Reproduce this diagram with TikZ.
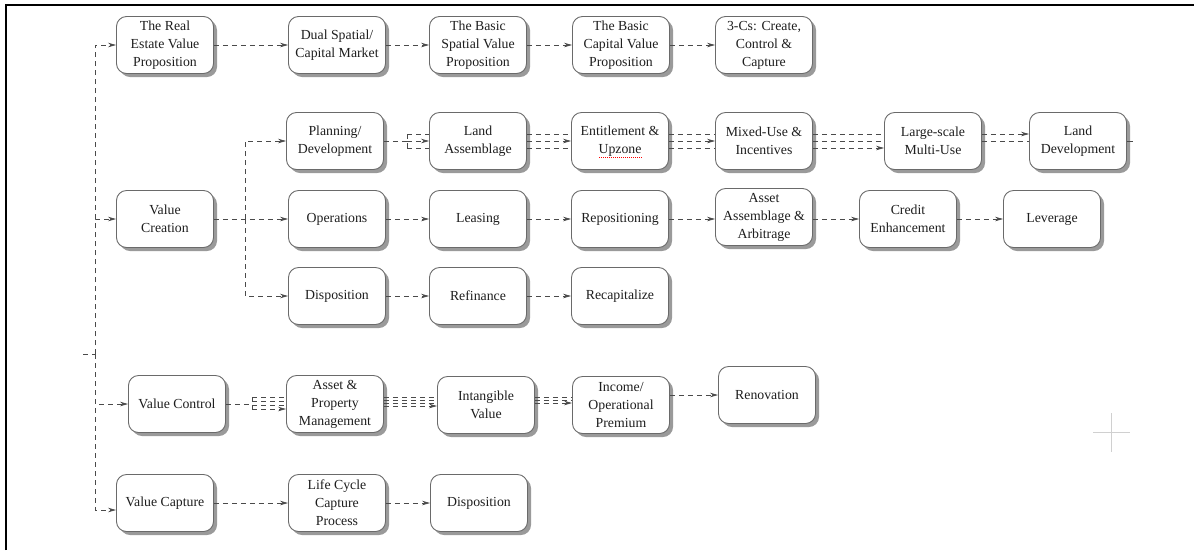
\documentclass[tikz,border=0pt]{standalone}
\usepackage{fontspec}
\setmainfont{Liberation Serif}
\usetikzlibrary{arrows.meta,shadows}

\definecolor{linegray}{HTML}{4A4A4A}
\definecolor{boxgray}{HTML}{6A6A6A}
\definecolor{shadowgray}{HTML}{9A9A9A}
\definecolor{textgray}{HTML}{1E1E1E}
\definecolor{cursorgray}{HTML}{D0D0D0}

\begin{document}
\begin{tikzpicture}[x=1pt,y=-1pt,
  box/.style={draw=boxgray, line width=0.9pt, rounded corners=10pt, fill=white,
    minimum width=97pt, minimum height=57pt, align=center, inner sep=2pt,
    text=textgray, font=\fontsize{13.8}{18}\selectfont,
    drop shadow={shadow xshift=3.5pt, shadow yshift=-3.5pt, fill=shadowgray, opacity=1}},
  link/.style={draw=linegray, line width=0.75pt, dash pattern=on 5pt off 4pt},
  arr/.style={link, -{Stealth[length=8pt,width=4.5pt]}},
]
\useasboundingbox (0,0) rectangle (1194,550);

% frame edges
\draw[line width=2.5pt] (6,550) -- (6,5) -- (1194,5);

% row 1
\node[box] (re)  at (165,45) {The Real\\Estate Value\\Proposition};
\node[box] (dsm) at (337,45) {Dual Spatial/\\Capital Market};
\node[box] (bsv) at (478,45) {The Basic\\Spatial Value\\Proposition};
\node[box] (bcv) at (621,45) {The Basic\\Capital Value\\Proposition};
\node[box] (ccc) at (764,45) {3-Cs: Create,\\Control \&\\Capture};

% row 2
\node[box] (plan) at (335,141) {Planning/\\Development};
\node[box] (land) at (478,141) {Land\\Assemblage};
\node[box] (ent)  at (620,141) {Entitlement \&\\Upzone};
\node[box] (mix)  at (764,141) {Mixed-Use \&\\Incentives};
\node[box] (lsm)  at (933,141) {Large-scale\\Multi-Use};
\node[box] (ldev) at (1078,141) {Land\\Development};

% row 3
\node[box] (vcr) at (165,219) {Value\\Creation};
\node[box] (ops) at (337,219) {Operations};
\node[box] (lea) at (478,219) {Leasing};
\node[box] (rep) at (620,219) {Repositioning};
\node[box] (aaa) at (764,217) {Asset\\Assemblage \&\\Arbitrage};
\node[box] (cre) at (908,219) {Credit\\Enhancement};
\node[box] (lev) at (1052,219) {Leverage};

% row 4
\node[box] (disp)  at (337,296) {Disposition};
\node[box] (ref)   at (478,296) {Refinance};
\node[box] (recap) at (620,296) {Recapitalize};

% row 5
\node[box] (vco)  at (177,404) {Value Control};
\node[box] (apm)  at (335,404) {Asset \&\\Property\\Management};
\node[box] (intv) at (486,405) {Intangible\\Value};
\node[box] (inc)  at (621,405) {Income/\\Operational\\Premium};
\node[box] (ren)  at (767,395) {Renovation};

% row 6
\node[box] (vca)  at (165,503) {Value Capture};
\node[box] (lcc)  at (337,503) {Life Cycle\\Capture\\Process};
\node[box] (disp2) at (479,503) {Disposition};

% spell-check squiggle under "Upzone"
\draw[red, line width=1pt, dash pattern=on 1pt off 1pt] ([xshift=-21pt,yshift=-16pt]ent.center) -- ([xshift=22pt,yshift=-16pt]ent.center);

% main trunk
\coordinate (in) at (83,354);
\coordinate (j)  at (95,354);
\draw[link] (in) -- (j);
\draw[arr] (j) |- (re.west);
\draw[arr] (j) |- (vcr.west);
\draw[arr] (j) |- (vco.west);
\draw[arr] (j) |- ([yshift=-7pt]vca.west);

% row 1 chain
\draw[arr] (re.east) -- (dsm.west);
\draw[arr] (dsm.east) -- (bsv.west);
\draw[arr] (bsv.east) -- (bcv.west);
\draw[arr] (bcv.east) -- (ccc.west);

% value creation branch
\coordinate (b) at (245,219);
\draw[arr] (vcr.east) -- (ops.west);
\draw[arr] (b) |- (plan.west);
\draw[arr] (b) |- (disp.west);

% row 2 chain (bundled lines)
\coordinate (pj) at (407,141);
\draw[link] (plan.east) -- (pj);
\draw[link] ([yshift=7pt]pj) -- ([yshift=-7pt]pj);
\draw[link] ([yshift=7pt]pj) -- ([yshift=7pt]land.west);
\draw[arr]  (pj) -- (land.west);
\draw[link] ([yshift=-7pt]pj) -- ([yshift=-7pt]land.west);

\draw[link] ([yshift=7pt]land.east) -- ([yshift=7pt]ent.west);
\draw[arr]  (land.east) -- (ent.west);
\draw[link] ([yshift=-7pt]land.east) -- ([yshift=-7pt]ent.west);

\draw[link] ([yshift=7pt]ent.east) -- ([yshift=7pt]mix.west);
\draw[arr]  (ent.east) -- (mix.west);
\draw[link] ([yshift=-7pt]ent.east) -- ([yshift=-7pt]mix.west);

\draw[link] ([yshift=7pt]mix.east) -- ([yshift=7pt]lsm.west);
\draw[link] (mix.east) -- (lsm.west);
\draw[arr]  ([yshift=-7pt]mix.east) -- ([yshift=-7pt]lsm.west);

\draw[arr]  ([yshift=7pt]lsm.east) -- ([yshift=7pt]ldev.west);
\draw[link] (lsm.east) -- (ldev.west);
\draw[linegray, line width=0.75pt] (ldev.east) -- ++(6,0);

% row 3 chain
\draw[arr] (ops.east) -- (lea.west);
\draw[arr] (lea.east) -- (rep.west);
\draw[arr] (rep.east) -- (aaa.west |- rep.east);
\draw[arr] (aaa.east |- cre.west) -- (cre.west);
\draw[arr] (cre.east) -- (lev.west);

% row 4 chain
\draw[arr] (disp.east) -- (ref.west);
\draw[arr] (ref.east) -- (recap.west);

% row 5 chain (bundled lines)
\coordinate (cj) at (252,404);
\draw[link] (vco.east) -- (cj);
\draw[link] ([yshift=7pt]cj) -- ([yshift=-5pt]cj);
\draw[link] ([yshift=7pt]cj) -- ([yshift=7pt]apm.west);
\draw[link] ([yshift=3pt]cj) -- ([yshift=3pt]apm.west);
\draw[link] ([yshift=-1pt]cj) -- ([yshift=-1pt]apm.west);
\draw[arr]  ([yshift=-5pt]cj) -- ([yshift=-5pt]apm.west);

\draw[link] ([yshift=7pt]apm.east) -- ([yshift=8pt]intv.west);
\draw[link] ([yshift=4pt]apm.east) -- ([yshift=5pt]intv.west);
\draw[link] ([yshift=1pt]apm.east) -- ([yshift=2pt]intv.west);
\draw[arr]  ([yshift=-2pt]apm.east) -- ([yshift=-1pt]intv.west);

\draw[link] ([yshift=8pt]intv.east) -- ([yshift=8pt]inc.west);
\draw[link] ([yshift=5pt]intv.east) -- ([yshift=5pt]inc.west);
\draw[arr]  ([yshift=2pt]intv.east) -- ([yshift=2pt]inc.west);

\draw[arr] ([yshift=10pt]inc.east) -- (ren.west);

% row 6 chain
\draw[arr] (vca.east) -- (lcc.west);
\draw[arr] (lcc.east) -- (disp2.west);

% cursor cross
\coordinate (cx) at (1111,432);
\draw[cursorgray, line width=1pt] ([xshift=-18pt]cx) -- ([xshift=19pt]cx);
\draw[cursorgray, line width=1pt] ([yshift=19pt]cx) -- ([yshift=-20pt]cx);
\end{tikzpicture}
\end{document}
